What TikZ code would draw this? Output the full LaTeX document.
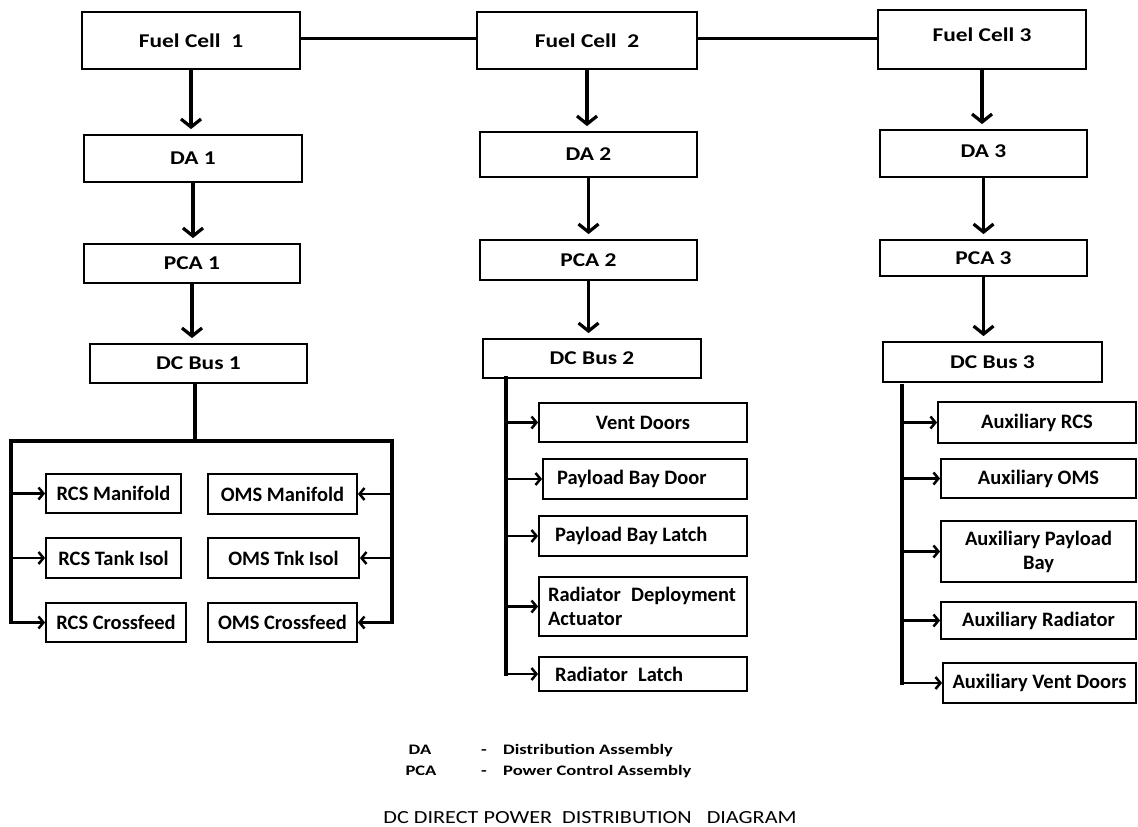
\documentclass[tikz,border=0pt]{standalone}
\usepackage{fontspec}
\setmainfont{Carlito}
\newfontfamily\mainlbl{Carlito}[FakeStretch=1.2]
\newfontfamily\leglbl{Carlito}[FakeStretch=1.28]
\newfontfamily\ttlfont{Carlito}[FakeStretch=1.2]
\usetikzlibrary{arrows.meta}
\begin{document}
\begin{tikzpicture}[x=1pt,y=-1pt,
  box/.style={draw, line width=1.8pt, inner sep=0pt, font={\mainlbl\fontsize{19.5}{22}\selectfont\bfseries}},
  sub/.style={draw, line width=1.8pt, inner sep=0pt, align=center, font={\fontsize{20.5}{24}\selectfont\bfseries}},
  subl/.style={sub, align=flush left},
  bigarr/.style={line width=3.2pt, -{Straight Barb[length=8pt,width=20pt]}, shorten >=5pt},
  subarr/.style={line width=2.5pt, -{Straight Barb[length=5pt,width=12pt]}},
  bus/.style={line width=3.5pt, line cap=rect, line join=miter},
  link/.style={line width=3pt},
  leg/.style={inner sep=0pt, anchor=base, font={\leglbl\fontsize{14.5}{16}\selectfont\bfseries}}
]
\useasboundingbox (0,0) rectangle (1138,827);
\fill[white] (0,0) rectangle (1138,827);

% column 1
\node[box, minimum width=218, minimum height=57] (fc1) at (191,40.5) {Fuel Cell\ \ 1};
\node[box, minimum width=218, minimum height=47] (da1) at (193,158.5) {DA 1};
\node[box, minimum width=216, minimum height=39] (pca1) at (192,263.5) {PCA 1};
\node[box, minimum width=217, minimum height=39] (dcb1) at (198.5,363.5) {DC Bus 1};

% column 2
\node[box, minimum width=220, minimum height=57] (fc2) at (587,40.5) {Fuel Cell\ \ 2};
\node[box, minimum width=217, minimum height=45] (da2) at (588.5,154.5) {DA 2};
\node[box, minimum width=217, minimum height=40] (pca2) at (588.5,260) {PCA 2};
\node[box, minimum width=218, minimum height=39] (dcb2) at (592,358.5) {DC Bus 2};

% column 3
\node[box, minimum width=208, minimum height=59] (fc3) at (982,39.5) {\raisebox{9pt}{Fuel Cell 3}};
\node[box, minimum width=207, minimum height=47] (da3) at (983.5,153.5) {\raisebox{4pt}{DA 3}};
\node[box, minimum width=207, minimum height=36] (pca3) at (983.5,258) {PCA 3};
\node[box, minimum width=219, minimum height=40] (dcb3) at (992.5,362) {DC Bus 3};

% links between fuel cells
\draw[link] (fc1.east |- 0,38) -- (fc2.west |- 0,38);
\draw[link] (fc2.east |- 0,38) -- (fc3.west |- 0,38);

% main arrows
\foreach \a/\b in {fc1/da1, da1/pca1, pca1/dcb1, fc2/da2, da2/pca2, pca2/dcb2, fc3/da3, da3/pca3, pca3/dcb3}
  \draw[bigarr] (\a.south) -- (\a.south |- \b.north);

% column 1 loads
\node[sub, minimum width=135, minimum height=39] (rm) at (113.5,493.5) {RCS Manifold};
\node[sub, minimum width=135, minimum height=40] (rt) at (113.5,558) {RCS Tank Isol};
\node[sub, minimum width=140, minimum height=39] (rc) at (116,622.5) {RCS Crossfeed};
\node[sub, minimum width=149, minimum height=40] (om) at (282.5,494) {OMS Manifold};
\node[sub, minimum width=151, minimum height=40] (ot) at (283.5,558) {OMS Tnk Isol};
\node[sub, minimum width=149, minimum height=39] (oc) at (282.5,622.5) {OMS Crossfeed};

\coordinate (j1) at (195,441);
\coordinate (l1) at (11,441);
\coordinate (r1) at (392,441);
\draw[bus] (dcb1.south -| j1) -- (j1);
\draw[bus] (l1 |- rc.west) -- (l1) -- (r1) -- (r1 |- oc.east);
\foreach \n in {rm, rt, rc}
  \draw[subarr] (l1 |- \n.west) -- (\n.west);
\foreach \n in {om, ot, oc}
  \draw[subarr] (r1 |- \n.east) -- (\n.east);

% column 2 loads
\node[sub, minimum width=208, minimum height=39] (vd) at (643,422.5) {Vent Doors};
\node[subl, minimum width=204, minimum height=40, inner xsep=14pt, text width=176pt] (pbd) at (645,479) {Payload Bay Door};
\node[subl, minimum width=208, minimum height=40, inner xsep=16pt, text width=176pt] (pbl) at (643,536) {Payload Bay Latch};
\node[subl, minimum width=208, minimum height=59, inner xsep=9pt, text width=190pt] (rda) at (643,606.5) {\mbox{Radiator\hspace{0.5em}Deployment}\\Actuator};
\node[subl, minimum width=208, minimum height=34, inner xsep=16pt, text width=176pt] (rl) at (643,674) {\mbox{Radiator\hspace{0.5em}Latch}};

\coordinate (m2) at (506,378);
\draw[bus] (m2) -- (m2 |- rl.west);
\foreach \n in {vd, pbd, pbl, rda, rl}
  \draw[subarr] (m2 |- \n.west) -- (\n.west);

% column 3 loads
\node[sub, minimum width=198, minimum height=41] (ar) at (1037,422.5) {Auxiliary RCS};
\node[sub, minimum width=195, minimum height=39] (ao) at (1038.5,478.5) {Auxiliary OMS};
\node[sub, minimum width=195, minimum height=61] (apb) at (1038.5,551.5) {Auxiliary Payload\\Bay};
\node[sub, minimum width=195, minimum height=37] (arad) at (1038.5,620.5) {Auxiliary Radiator};
\node[sub, minimum width=193, minimum height=40] (avd) at (1039.5,683) {Auxiliary Vent Doors};

\coordinate (m3) at (902,386);
\draw[bus] (m3) -- (m3 |- avd.west);
\foreach \n in {ar, ao, apb, arad, avd}
  \draw[subarr] (m3 |- \n.west) -- (\n.west);

% legend
\node[leg] (lda) at (420,754.5) {DA};
\node[leg] (lds) at (484,754.5) {-};
\node[leg, anchor=base west] (ldt) at (503,754.5) {Distribution Assembly};
\node[leg] (lpca) at (421,775.5) {PCA};
\node[leg] (lps) at (484,775.5) {-};
\node[leg, anchor=base west] (lpt) at (503,775.5) {Power Control Assembly};

% title
\node[inner sep=0pt, font={\ttlfont\fontsize{18.5}{20}\selectfont}] (title) at (590,818) {DC DIRECT POWER\ \ DISTRIBUTION\ \ \ DIAGRAM};
\end{tikzpicture}
\end{document}
